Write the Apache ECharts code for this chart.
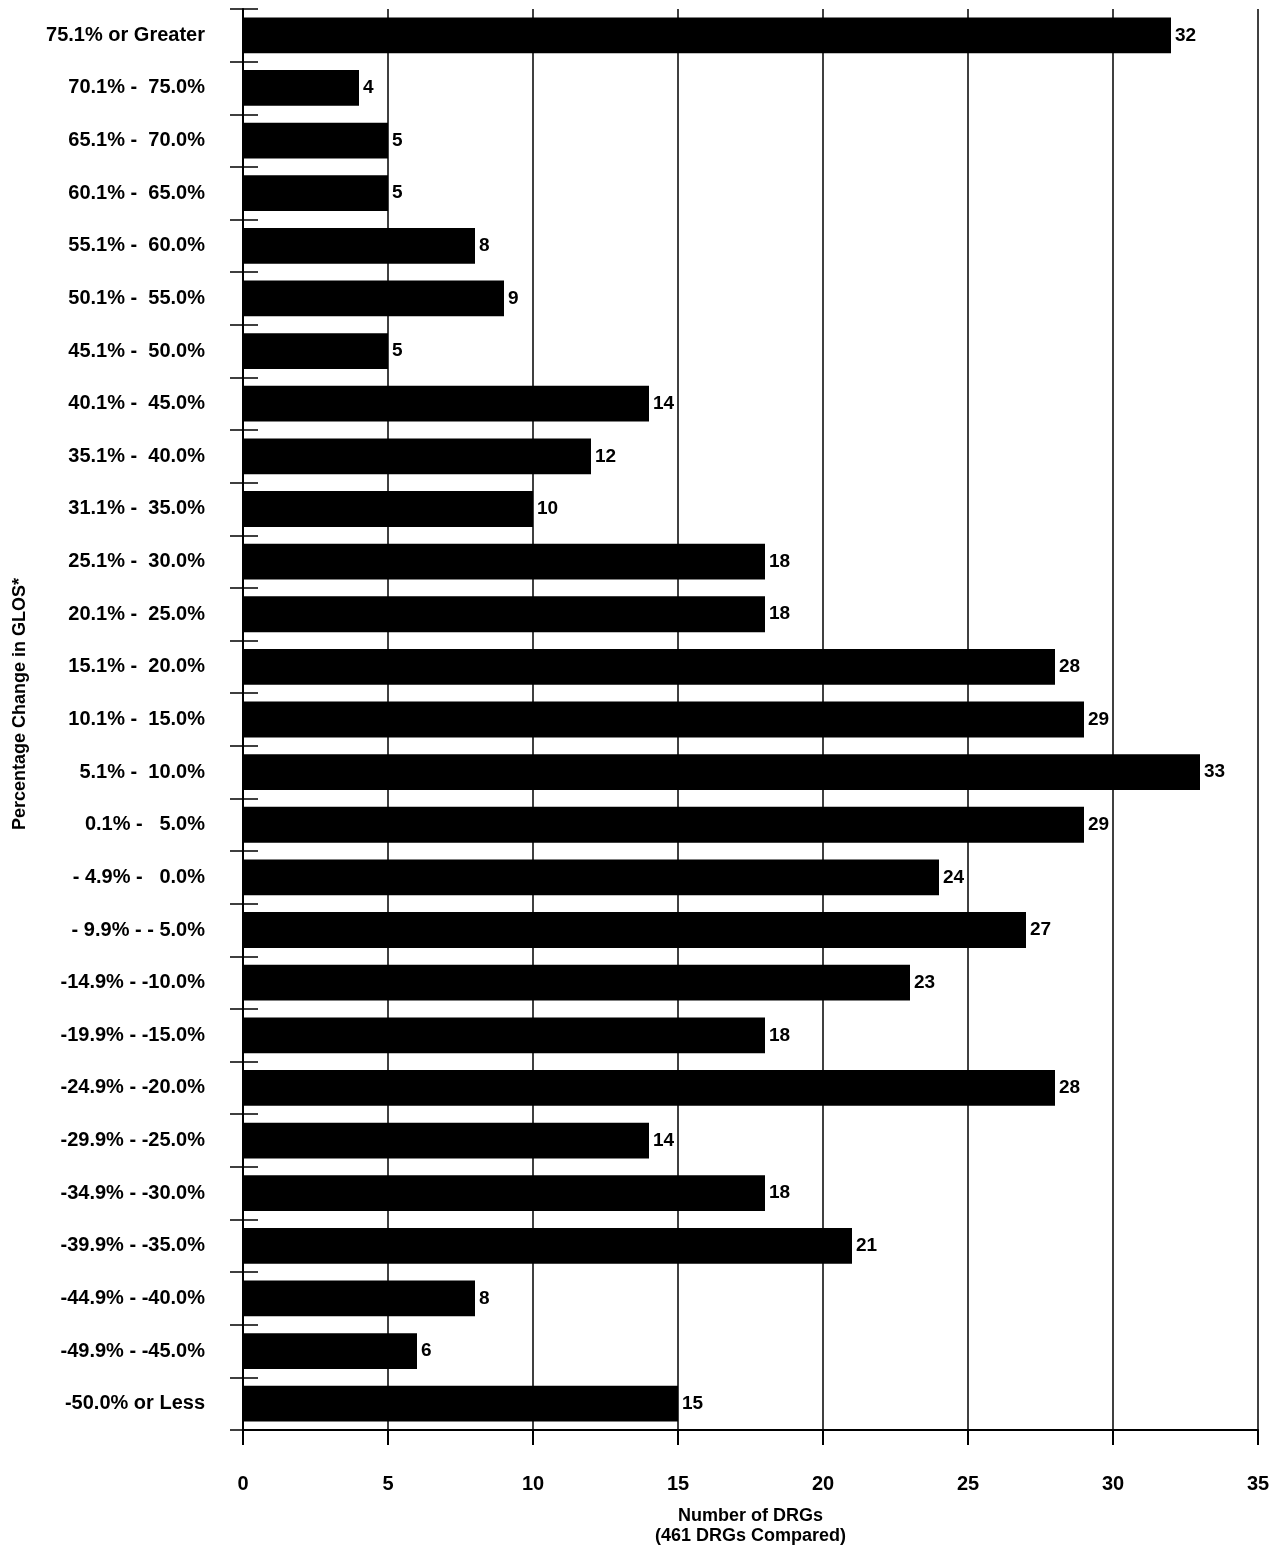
<!DOCTYPE html>
<html>
<head>
<meta charset="utf-8">
<script src="https://cdn.jsdelivr.net/npm/echarts@6/dist/echarts.min.js"></script>
<style>
html,body{margin:0;padding:0;background:#fff;}
#chart{width:1279px;height:1551px;}
</style>
</head>
<body>
<div id="chart"></div>
<script>
const categories = [
  "75.1% or Greater", "70.1% -  75.0%", "65.1% -  70.0%", "60.1% -  65.0%",
  "55.1% -  60.0%", "50.1% -  55.0%", "45.1% -  50.0%", "40.1% -  45.0%",
  "35.1% -  40.0%", "31.1% -  35.0%", "25.1% -  30.0%", "20.1% -  25.0%",
  "15.1% -  20.0%", "10.1% -  15.0%", "5.1% -  10.0%", "0.1% -   5.0%",
  "- 4.9% -   0.0%", "- 9.9% - - 5.0%", "-14.9% - -10.0%", "-19.9% - -15.0%",
  "-24.9% - -20.0%", "-29.9% - -25.0%", "-34.9% - -30.0%", "-39.9% - -35.0%",
  "-44.9% - -40.0%", "-49.9% - -45.0%", "-50.0% or Less"
];
const drgCounts = [32, 4, 5, 5, 8, 9, 5, 14, 12, 10, 18, 18, 28, 29, 33, 29, 24, 27, 23, 18, 28, 14, 18, 21, 8, 6, 15];
const xMin = 0, xMax = 35, xInterval = 5;
const xAxisTitle = "Number of DRGs\n(461 DRGs Compared)";
const yAxisTitle = "Percentage Change in GLOS*";

const FONT = "'Liberation Sans', Arial, sans-serif";
const chart = echarts.init(document.getElementById('chart'), null, {renderer: 'canvas'});
const gridBox = {left: 243, right: 21, top: 9, bottom: 121, containLabel: false};
chart.setOption({
  animation: false,
  backgroundColor: '#fff',
  grid: [Object.assign({}, gridBox), Object.assign({}, gridBox)],
  xAxis: [{
    type: 'value', gridIndex: 0, min: xMin, max: xMax, interval: xInterval,
    axisLine: {show: true, lineStyle: {color: '#000', width: 2}},
    axisTick: {show: true, length: 15, lineStyle: {color: '#000', width: 2}},
    splitLine: {show: true, lineStyle: {color: '#000', width: 1.5}},
    axisLabel: {color: '#000', fontFamily: FONT, fontWeight: 'bold', fontSize: 20, margin: 44},
    name: xAxisTitle, nameLocation: 'middle', nameGap: 76,
    nameTextStyle: {color: '#000', fontFamily: FONT, fontWeight: 'bold', fontSize: 18, lineHeight: 20}
  }, {
    type: 'value', gridIndex: 1, min: xMin, max: xMax, show: false
  }],
  yAxis: [{
    type: 'category', gridIndex: 0, data: categories, inverse: true,
    axisLine: {show: true, lineStyle: {color: '#000', width: 2}},
    axisTick: {show: true, inside: false, length: 13, lineStyle: {color: '#000', width: 1.5}},
    axisLabel: {color: '#000', fontFamily: FONT, fontWeight: 'bold', fontSize: 20, margin: 38},
    splitLine: {show: false}
  }, {
    type: 'category', gridIndex: 1, data: categories, inverse: true,
    axisLine: {show: false},
    axisTick: {show: true, inside: true, length: 15, lineStyle: {color: '#000', width: 1.5}},
    axisLabel: {show: false},
    splitLine: {show: false}
  }],
  graphic: [{
    type: 'text', x: 20, y: 704, rotation: Math.PI / 2,
    style: {text: yAxisTitle, fill: '#000', font: 'bold 18px ' + FONT, align: 'center', verticalAlign: 'middle'}
  }],
  series: [{
    type: 'bar', xAxisIndex: 0, yAxisIndex: 0, data: drgCounts,
    barCategoryGap: '32%',
    itemStyle: {color: '#000'},
    label: {show: true, position: 'right', distance: 4, color: '#000', fontFamily: FONT, fontWeight: 'bold', fontSize: 19}
  }]
});
</script>
</body>
</html>
